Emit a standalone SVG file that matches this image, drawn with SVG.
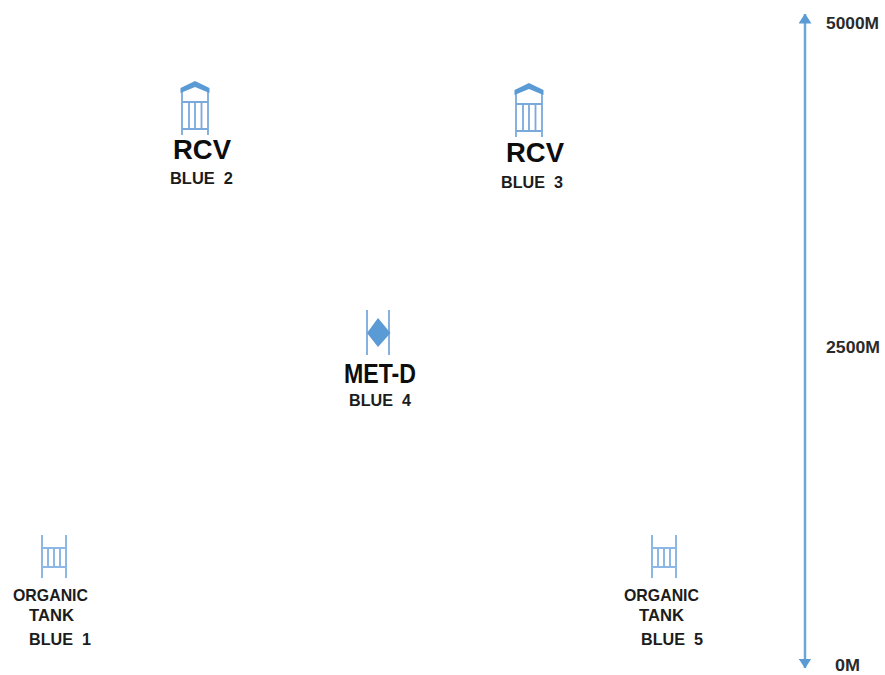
<svg xmlns="http://www.w3.org/2000/svg" width="885" height="675" viewBox="0 0 885 675">
<defs>
<marker id="ah" viewBox="0 0 10 13" refX="9.500" refY="6.500" markerWidth="10" markerHeight="13" markerUnits="userSpaceOnUse" orient="auto-start-reverse"><path d="M0 0 L10 6.500 L0 13 Z" fill="#5b9bd5"/></marker>
<g id="rcv"><path class="ic" d="M-13 53V9M13 53V9M-13 20H13M-13 47H13M-6 20V47M0 20V47M6.500 20V47"/><path d="M-14.500 11V6L0 -1L14.500 6V11L0 5Z" fill="#5b9bd5"/></g>
<g id="tank"><path class="ic2" d="M-12 0V43M12 0V43M-12 13H12M-12 32H12M-6 13V32M0 13V32M6 13V32"/></g>
</defs>
<style>
.ic{fill:none;stroke:#7aa9dc;stroke-width:1.800}
.ic2{fill:none;stroke:#8db8e6;stroke-width:2}
.t{font-family:"Liberation Sans",Arial,sans-serif;font-weight:700;fill:#1c1c1c}
.s{font-size:17px}
.b{font-size:27px;fill:#0d0d0d}
.a{font-size:16.500px;fill:#2a2a2a}
</style>
<rect width="885" height="675" fill="#fff"/>
<g id="connectors"><line x1="805" y1="14" x2="805" y2="668" stroke="#6ea6dc" stroke-width="2.500" marker-start="url(#ah)" marker-end="url(#ah)"/></g>
<g id="node-rcv-2"><use href="#rcv" x="195" y="82"/><text class="t b" x="173" y="159" textLength="58" lengthAdjust="spacingAndGlyphs">RCV</text><text class="t s" x="170" y="184" textLength="63" lengthAdjust="spacingAndGlyphs" xml:space="preserve">BLUE  2</text></g>
<g id="node-rcv-3"><use href="#rcv" x="529" y="84"/><text class="t b" x="506" y="162" textLength="58" lengthAdjust="spacingAndGlyphs">RCV</text><text class="t s" x="501" y="188" textLength="62" lengthAdjust="spacingAndGlyphs" xml:space="preserve">BLUE  3</text></g>
<g id="node-met-d"><path class="ic" d="M367 310V355M389 310V355"/><path d="M378 318L390.500 333L378 347L367 333Z" fill="#5b9bd5"/><text class="t b" x="344" y="383" textLength="72" lengthAdjust="spacingAndGlyphs">MET-D</text><text class="t s" x="349" y="406" textLength="62" lengthAdjust="spacingAndGlyphs" xml:space="preserve">BLUE  4</text></g>
<g id="node-tank-1"><use href="#tank" x="54" y="535"/><text class="t s" x="13" y="601" textLength="75" lengthAdjust="spacingAndGlyphs">ORGANIC</text><text class="t s" x="29" y="621" textLength="45" lengthAdjust="spacingAndGlyphs">TANK</text><text class="t s" x="29" y="645" textLength="62" lengthAdjust="spacingAndGlyphs" xml:space="preserve">BLUE  1</text></g>
<g id="node-tank-5"><use href="#tank" x="664" y="535"/><text class="t s" x="624" y="601" textLength="75" lengthAdjust="spacingAndGlyphs">ORGANIC</text><text class="t s" x="639" y="621" textLength="45" lengthAdjust="spacingAndGlyphs">TANK</text><text class="t s" x="641" y="645" textLength="62" lengthAdjust="spacingAndGlyphs" xml:space="preserve">BLUE  5</text></g>
<g id="scale-labels"><text class="t a" x="826" y="29" textLength="53" lengthAdjust="spacingAndGlyphs">5000M</text><text class="t a" x="826" y="353" textLength="54" lengthAdjust="spacingAndGlyphs">2500M</text><text class="t a" x="835" y="671" textLength="25" lengthAdjust="spacingAndGlyphs">0M</text></g>
</svg>
